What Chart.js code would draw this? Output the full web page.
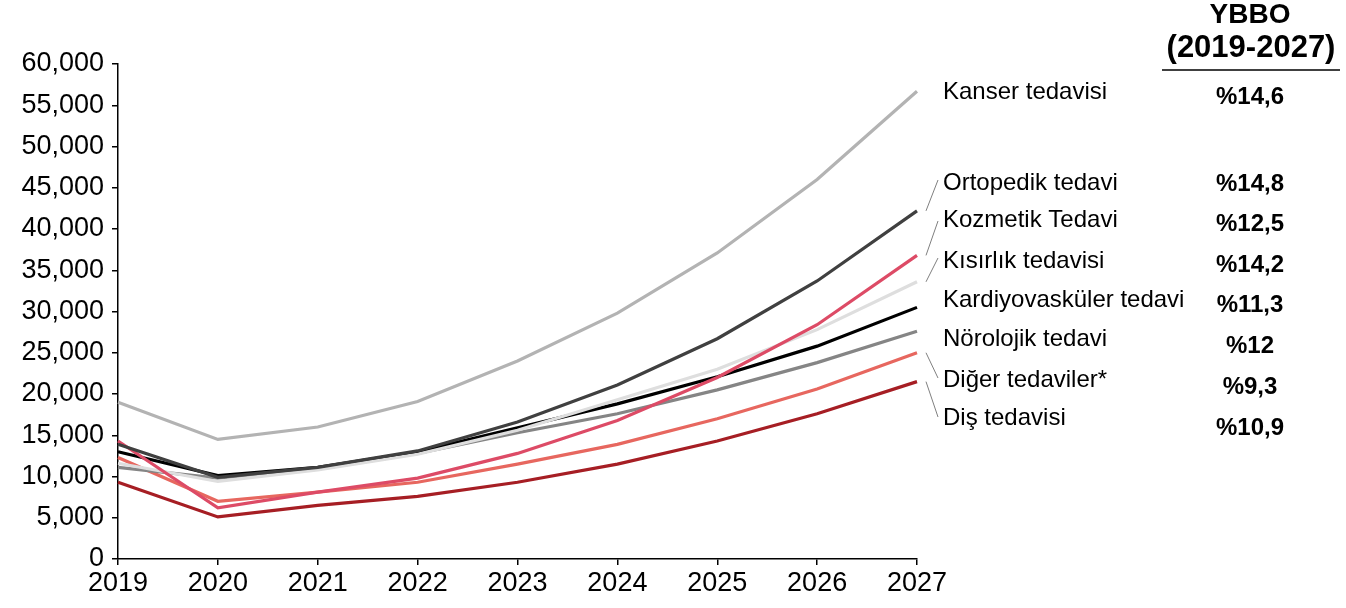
<!DOCTYPE html>
<html>
<head>
<meta charset="utf-8">
<script src="https://cdn.jsdelivr.net/npm/chart.js@4/dist/chart.umd.min.js"></script>
<style>
  html, body { margin: 0; padding: 0; background: #fff; }
  #wrap { width: 1346px; height: 608px; position: relative; }
</style>
</head>
<body>
<div id="wrap"><canvas id="chart"></canvas></div>
<script>
// years on the x axis
const years = ['2019', '2020', '2021', '2022', '2023', '2024', '2025', '2026', '2027'];

// series values
const kanser     = [19000, 14500, 16000, 19100, 24000, 29800, 37100, 46000, 56700];
const ortopedik  = [13900,  9900, 11100, 13100, 16600, 21100, 26700, 33700, 42200];
const kozmetik   = [14300,  6200,  8100,  9800, 12800, 16800, 22000, 28400, 36800];
const kisirlik   = [11600,  9400, 10800, 12700, 15600, 19300, 23000, 27800, 33600];
const kardiyo    = [13000, 10100, 11100, 13000, 15900, 18800, 22100, 25800, 30500];
const norolojik  = [11100,  9800, 10900, 12800, 15300, 17600, 20500, 23800, 27600];
const diger      = [12300,  7000,  8100,  9300, 11500, 13900, 17000, 20600, 25000];
const dis        = [ 9300,  5100,  6500,  7600,  9300, 11500, 14300, 17600, 21500];

// right-hand labels and CAGR values, top to bottom
const labelNames = ['Kanser tedavisi', 'Ortopedik tedavi', 'Kozmetik Tedavi', 'Kısırlık tedavisi',
                    'Kardiyovasküler tedavi', 'Nörolojik tedavi', 'Diğer tedaviler*', 'Diş tedavisi'];
const cagrValues = ['%14,6', '%14,8', '%12,5', '%14,2', '%11,3', '%12', '%9,3', '%10,9'];
const cagrHeader = ['YBBO', '(2019-2027)'];

const FONT = '"Liberation Sans", Arial, sans-serif';

function line(label, data, color) {
    return {
        label: label,
        data: data,
        borderColor: color,
        backgroundColor: color,
        borderWidth: 3.2,
        pointRadius: 0,
        tension: 0,
        fill: false,
    };
}

// right side: series names, leader lines, CAGR column
const sideLabels = {
    id: 'sideLabels',
    afterDraw(chart) {
        const ctx = chart.ctx;
        const area = chart.chartArea;
        const x0 = area.right + 26;
        const tops = [92, 183, 220, 261, 300, 339, 380, 418];
        const valTops = [97, 184, 224, 265, 305, 346, 387, 428];
        ctx.save();
        ctx.fillStyle = '#000';
        ctx.textBaseline = 'middle';
        ctx.font = '24px ' + FONT;
        ctx.textAlign = 'left';
        labelNames.forEach((n, i) => ctx.fillText(n, x0, tops[i]));

        ctx.font = 'bold 24px ' + FONT;
        ctx.textAlign = 'center';
        const cx = 1250;
        cagrValues.forEach((v, i) => ctx.fillText(v, cx, valTops[i]));
        ctx.font = 'bold 28px ' + FONT;
        ctx.fillText(cagrHeader[0], cx, 15);
        ctx.font = 'bold 31px ' + FONT;
        ctx.fillText(cagrHeader[1], 1251, 48);
        ctx.strokeStyle = '#000';
        ctx.lineWidth = 1.5;
        ctx.beginPath();
        ctx.moveTo(1162, 70);
        ctx.lineTo(1340, 70);
        ctx.stroke();

        // leader lines from line ends to their labels
        const y = chart.scales.y;
        const ds = chart.data.datasets;
        const leaders = [[1, 180], [2, 221], [3, 258], [6, 378], [7, 417]];
        ctx.strokeStyle = '#7f7f7f';
        ctx.lineWidth = 1;
        leaders.forEach(([i, ty]) => {
            const d = ds[i].data;
            const sy = y.getPixelForValue(d[d.length - 1]);
            ctx.beginPath();
            ctx.moveTo(area.right + 9, sy);
            ctx.lineTo(area.right + 21, ty);
            ctx.stroke();
        });
        ctx.restore();
    }
};

new Chart(document.getElementById('chart'), {
    type: 'line',
    data: {
        labels: years,
        datasets: [
            line('Kanser tedavisi', kanser, '#b3b3b3'),
            line('Ortopedik tedavi', ortopedik, '#404040'),
            line('Kozmetik Tedavi', kozmetik, '#dd4b66'),
            line('Kısırlık tedavisi', kisirlik, '#dedede'),
            line('Kardiyovasküler tedavi', kardiyo, '#000000'),
            line('Nörolojik tedavi', norolojik, '#858585'),
            line('Diğer tedaviler*', diger, '#e7675f'),
            line('Diş tedavisi', dis, '#a61e24'),
        ],
    },
    options: {
        responsive: true,
        maintainAspectRatio: false,
        animation: false,
        layout: { padding: { left: 0, right: 429, top: 64, bottom: 0 } },
        plugins: {
            legend: { display: false },
            tooltip: { enabled: false },
        },
        scales: {
            x: {
                offset: false,
                grid: { drawOnChartArea: false, drawTicks: true, tickLength: 6, color: '#000', lineWidth: 1.5 },
                border: { color: '#000', width: 1.5 },
                ticks: { color: '#000', font: { family: FONT, size: 27 }, padding: 2, maxRotation: 0 },
                afterFit(s) { s.height = 49; },
            },
            y: {
                min: 0,
                max: 60000,
                grid: { drawOnChartArea: false, drawTicks: true, tickLength: 6, color: '#000', lineWidth: 1.5 },
                border: { color: '#000', width: 1.5 },
                ticks: {
                    stepSize: 5000,
                    color: '#000',
                    padding: 8,
                    font: { family: FONT, size: 27 },
                    callback: v => v.toLocaleString('en-US'),
                },
                afterFit(s) { s.width = 118; },
            },
        },
    },
    plugins: [sideLabels],
});
</script>
</body>
</html>
